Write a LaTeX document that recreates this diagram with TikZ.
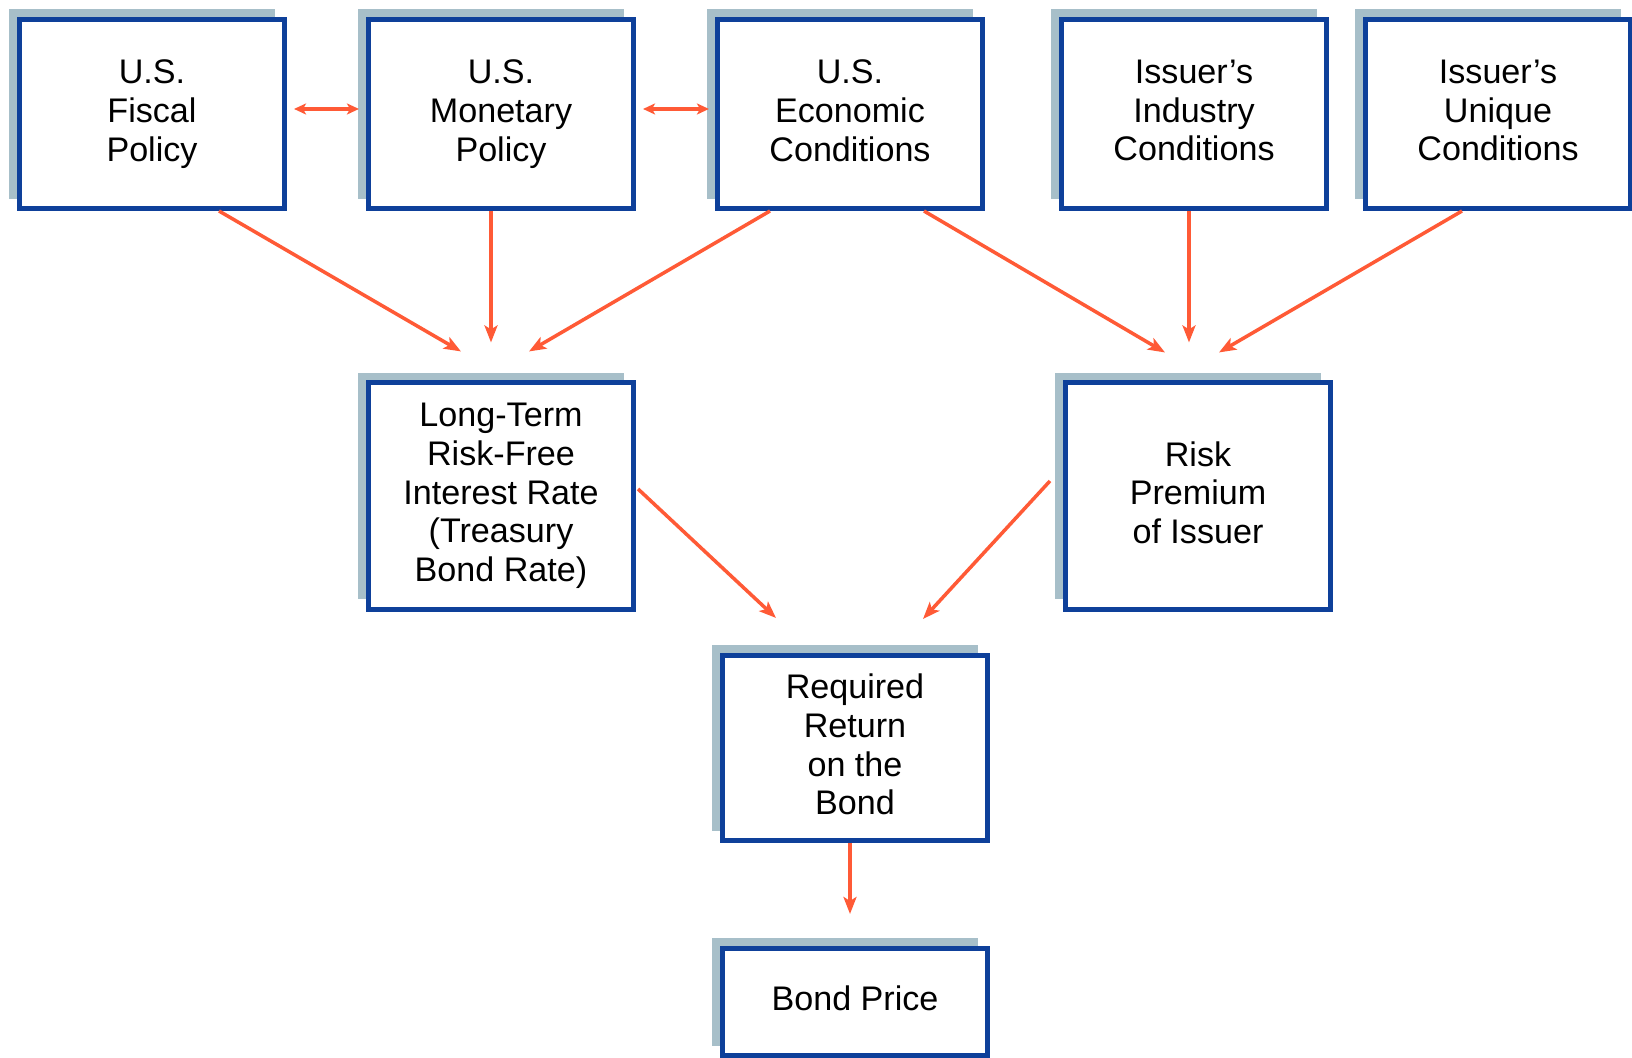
\documentclass[tikz,border=0pt]{standalone}
\usepackage{fontspec}
\setmainfont{Liberation Sans}
\usetikzlibrary{calc,shadows,arrows.meta}
\definecolor{boxblue}{HTML}{0E409A}
\definecolor{shadowgray}{HTML}{A7BFC9}
\definecolor{arrowred}{HTML}{FF5A36}

\begin{document}
\begin{tikzpicture}[x=0.01cm, y=0.01cm,
	factor/.style={draw=boxblue, line width=1.4pt, fill=white, align=center,
		minimum width=2.65cm, inner sep=0pt,
		font=\fontsize{9.7}{11}\selectfont, execute at end node={\rule[-2pt]{0pt}{2pt}},
		drop shadow={shadow xshift=-1mm, shadow yshift=1mm, fill=shadowgray, opacity=1}},
	link/.style={arrowred, line width=1pt, -{Stealth[length=1.7mm, width=1.3mm, inset=0.4mm]}},
	duo/.style={arrowred, line width=1pt,
		{Stealth[length=1.2mm, width=1.1mm, inset=0.3mm]}-{Stealth[length=1.2mm, width=1.1mm, inset=0.3mm]}}]
	\useasboundingbox (0,0) rectangle (1632,1058);

	% top row of influences
	\foreach \n/\x/\t in {fiscal/152/{U.S.\\Fiscal\\Policy},
	                      monetary/501/{U.S.\\Monetary\\Policy},
	                      economic/850/{U.S.\\Economic\\Conditions},
	                      industry/1194/{Issuer’s\\Industry\\Conditions},
	                      unique/1498/{Issuer’s\\Unique\\Conditions}}
	{
		\node[factor, minimum height=1.89cm] (\n) at (\x,944) {\t};
	}

	\node[factor, minimum height=2.26cm] (ltr) at (501,562)
		{Long-Term\\Risk-Free\\Interest Rate\\(Treasury\\Bond Rate)};
	\node[factor, minimum height=2.26cm] (risk) at (1198,562)
		{Risk\\Premium\\of Issuer};
	\node[factor, minimum height=1.85cm] (required) at (855,310)
		{Required\\Return\\on the\\Bond};
	\node[factor, minimum height=1.07cm] (bond) at (855,56) {Bond Price};

	\draw[duo] ($(fiscal.east)+(7,5)$) -- ($(monetary.west)+(-7,5)$);
	\draw[duo] ($(monetary.east)+(7,5)$) -- ($(economic.west)+(-6,5)$);

	\draw[link] ($(fiscal.south)+(67,0)$) -- ($(ltr.north)+(-40,29)$);
	\draw[link] ($(monetary.south)+(-10,0)$) -- ($(ltr.north)+(-10,38)$);
	\draw[link] ($(economic.south)+(-80,0)$) -- ($(ltr.north)+(28,29)$);

	\draw[link] ($(economic.south)+(74,0)$) -- ($(risk.north)+(-33,28)$);
	\draw[link] ($(industry.south)+(-5,0)$) -- ($(risk.north)+(-9,38)$);
	\draw[link] ($(unique.south)+(-36,0)$) -- ($(risk.north)+(21,28)$);

	\draw[link] ($(ltr.east)+(2,7)$) -- ($(required.north)+(-79,35)$);
	\draw[link] ($(risk.west)+(-13,15)$) -- ($(required.north)+(68,34)$);
	\draw[link] ($(required.south)+(-5,0)$) -- ($(bond.north)+(-5,32)$);
\end{tikzpicture}
\end{document}
